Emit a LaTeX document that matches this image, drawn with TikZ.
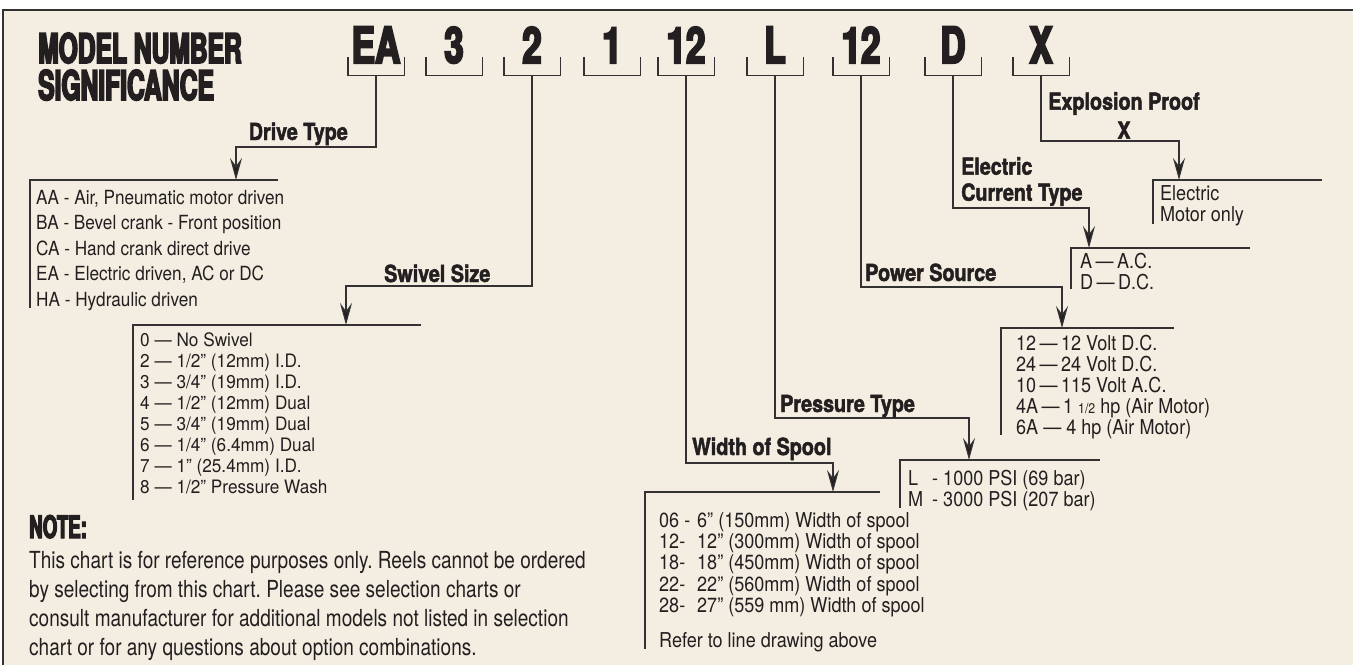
\documentclass[tikz,border=0pt]{standalone}
\usepackage{fontspec}
\usepackage{tikz}
\usetikzlibrary{arrows.meta,positioning,calc}
\newfontfamily\heavyf{TeX Gyre Heros}[FakeStretch=0.6,BoldFeatures={FakeBold=4}]
\newfontfamily\codef{TeX Gyre Heros}[FakeStretch=0.70,BoldFeatures={FakeBold=4}]
\newfontfamily\headf{TeX Gyre Heros}[FakeStretch=0.84,BoldFeatures={FakeBold=2}]
\newfontfamily\bodyf{TeX Gyre Heros}[FakeStretch=0.88]
\newfontfamily\swvf{TeX Gyre Heros}[FakeStretch=0.93]
\newfontfamily\narrowf{TeX Gyre Heros}[FakeStretch=0.81]
\definecolor{paper}{HTML}{F3EEE1}
\definecolor{ink}{HTML}{231F20}
\definecolor{rule}{HTML}{333132}
\frenchspacing

\begin{document}
\begin{tikzpicture}[x=1pt,y=-1pt,
  code/.style={font=\codef\bfseries\fontsize{50}{50}\selectfont,text=ink,inner sep=0pt,
    minimum width=56pt,text height=36pt,text depth=12pt,anchor=base},
  head/.style={font=\headf\bfseries\fontsize{23.5}{26}\selectfont,text=ink,inner sep=0pt},
  item/.style={font=\bodyf\fontsize{19.5}{25.4}\selectfont,text=ink,inner sep=0pt,align=left,anchor=north west},
  conn/.style={draw=rule,line width=1.2pt,-{Stealth[length=22pt,width=12pt,inset=8pt,fill=ink]}},
  boxline/.style={draw=rule,line width=1.4pt},
  brk/.style={draw=rule,line width=1.4pt}]
\useasboundingbox (0,0) rectangle (1353,665);
\fill[paper] (3,10) rectangle (1353,665);
\draw[draw=rule,line width=2.5pt] (3,665) -- (3,10) -- (1353,10);

\node[font=\heavyf\bfseries\fontsize{41}{36}\selectfont,text=ink,anchor=base west,inner sep=0pt]
  (title) at (38,63) {MODEL NUMBER};
\node[font=\heavyf\bfseries\fontsize{41}{36}\selectfont,text=ink,anchor=base west,inner sep=0pt]
  (title2) at (38,100) {SIGNIFICANCE};

\foreach \lbl/\x [count=\i] in {EA/376,3/454,2/532,1/612,12/686,L/775,12/861,D/953,X/1041}{
  \node[code] (c\i) at (\x,63) {\lbl};
  \draw[brk] ([yshift=18pt]c\i.south west) -- (c\i.south west) -- (c\i.south east) -- ([yshift=18pt]c\i.south east);
}

\coordinate (drvtip) at (236,180);
\coordinate (swvtip) at (346,325);
\coordinate (spltip) at (833,492);
\coordinate (prstip) at (969,460);
\coordinate (pwrtip) at (1062,328);
\coordinate (curtip) at (1089,248);
\coordinate (exptip) at (1179,180);

\draw[boxline] (278,180) -- (30,180) -- (30,308);
\draw[boxline] (421,325) -- (133,325) -- (133,500);
\draw[boxline] (880,492) -- (645,492) -- (645,649);
\draw[boxline] (1100,460) -- (900,460) -- (900,508);
\draw[boxline] (1174,328) -- (1001,328) -- (1001,435);
\draw[boxline] (1250,248) -- (1071,248) -- (1071,289);
\draw[boxline] (1322,180) -- (1153,180) -- (1153,224);

\draw[conn] (c1.south) |- ([yshift=33pt]drvtip) -- (drvtip);
\draw[conn] (c3.south) |- ([yshift=39pt]swvtip) -- (swvtip);
\draw[conn] (c5.south) |- ([yshift=29pt]spltip) -- (spltip);
\draw[conn] (c6.south) |- ([yshift=42pt]prstip) -- (prstip);
\draw[conn] (c7.south) |- ([yshift=41pt]pwrtip) -- (pwrtip);
\draw[conn] (c8.south) |- ([yshift=40pt]curtip) -- (curtip);
\draw[conn] (c9.south) |- ([yshift=39pt]exptip) -- (exptip);

\node[head,anchor=base east] (drvlbl) at (348,140) {Drive Type};
\node[head,anchor=base west] (swvlbl) at (384,282) {Swivel Size};
\node[head,anchor=base west] (spllbl) at (692,455) {Width of Spool};
\node[head,anchor=base west] (prslbl) at (780,412) {Pressure Type};
\node[head,anchor=base west] (pwrlbl) at (865,281) {Power Source};
\node[head,anchor=north west,align=left] (curlbl) at (961,157) {Electric\\Current Type};
\node[head,anchor=north,align=center] (explbl) at (1124,92) {Explosion Proof\\[3pt]X};

\node[item] (drvtxt) at (36,190) {AA - Air, Pneumatic motor driven\\BA - Bevel crank - Front position\\
  CA - Hand crank direct drive\\EA - Electric driven, AC or DC\\HA - Hydraulic driven};
\node[item,font=\swvf\fontsize{18.5}{21.1}\selectfont] (swvtxt) at (140,332) {0 — No Swivel\\
  2 — 1/2” (12mm) I.D.\\3 — 3/4” (19mm) I.D.\\4 — 1/2” (12mm) Dual\\5 — 3/4” (19mm) Dual\\
  6 — 1/4” (6.4mm) Dual\\7 — 1” (25.4mm) I.D.\\8 — 1/2” Pressure Wash};
\node[item,font=\bodyf\fontsize{20.5}{21.3}\selectfont] (spltxt) at (659,512) {\makebox[38pt][l]{06 -}6” (150mm) Width of spool\\
  \makebox[38pt][l]{12-}12” (300mm) Width of spool\\\makebox[38pt][l]{18-}18” (450mm) Width of spool\\
  \makebox[38pt][l]{22-}22” (560mm) Width of spool\\\makebox[38pt][l]{28-}27” (559 mm) Width of spool\\[14pt]
  Refer to line drawing above};
\node[item,font=\bodyf\fontsize{20.5}{21}\selectfont] (prstxt) at (908,470) {\makebox[24pt][l]{L}- 1000 PSI (69 bar)\\
  \makebox[24pt][l]{M}- 3000 PSI (207 bar)};
\node[item,font=\bodyf\fontsize{20.5}{21}\selectfont] (pwrtxt) at (1016,335) {12\,—\,12 Volt D.C.\\24\,—\,24 Volt D.C.\\
  10\,—\,115 Volt A.C.\\4A\,—\,1 {\fontsize{14}{14}\selectfont 1/2} hp (Air Motor)\\6A — 4 hp (Air Motor)};
\node[item,font=\bodyf\fontsize{20.5}{21}\selectfont] (curtxt) at (1080,253) {A\,—\,A.C.\\D\,—\,D.C.};
\node[item,font=\bodyf\fontsize{20.5}{21}\selectfont] (exptxt) at (1160,185) {Electric\\Motor only};

\node[font=\heavyf\bfseries\fontsize{31}{31}\selectfont,text=ink,anchor=base west,inner sep=0pt] (note) at (29,538) {NOTE:};
\node[item,font=\narrowf\fontsize{23.5}{29}\selectfont] (notetxt) at (29,551) {This chart is for reference purposes only. Reels cannot be ordered\\
  by selecting from this chart. Please see selection charts or\\
  consult manufacturer for additional models not listed in selection\\
  chart or for any questions about option combinations.};
\end{tikzpicture}
\end{document}
